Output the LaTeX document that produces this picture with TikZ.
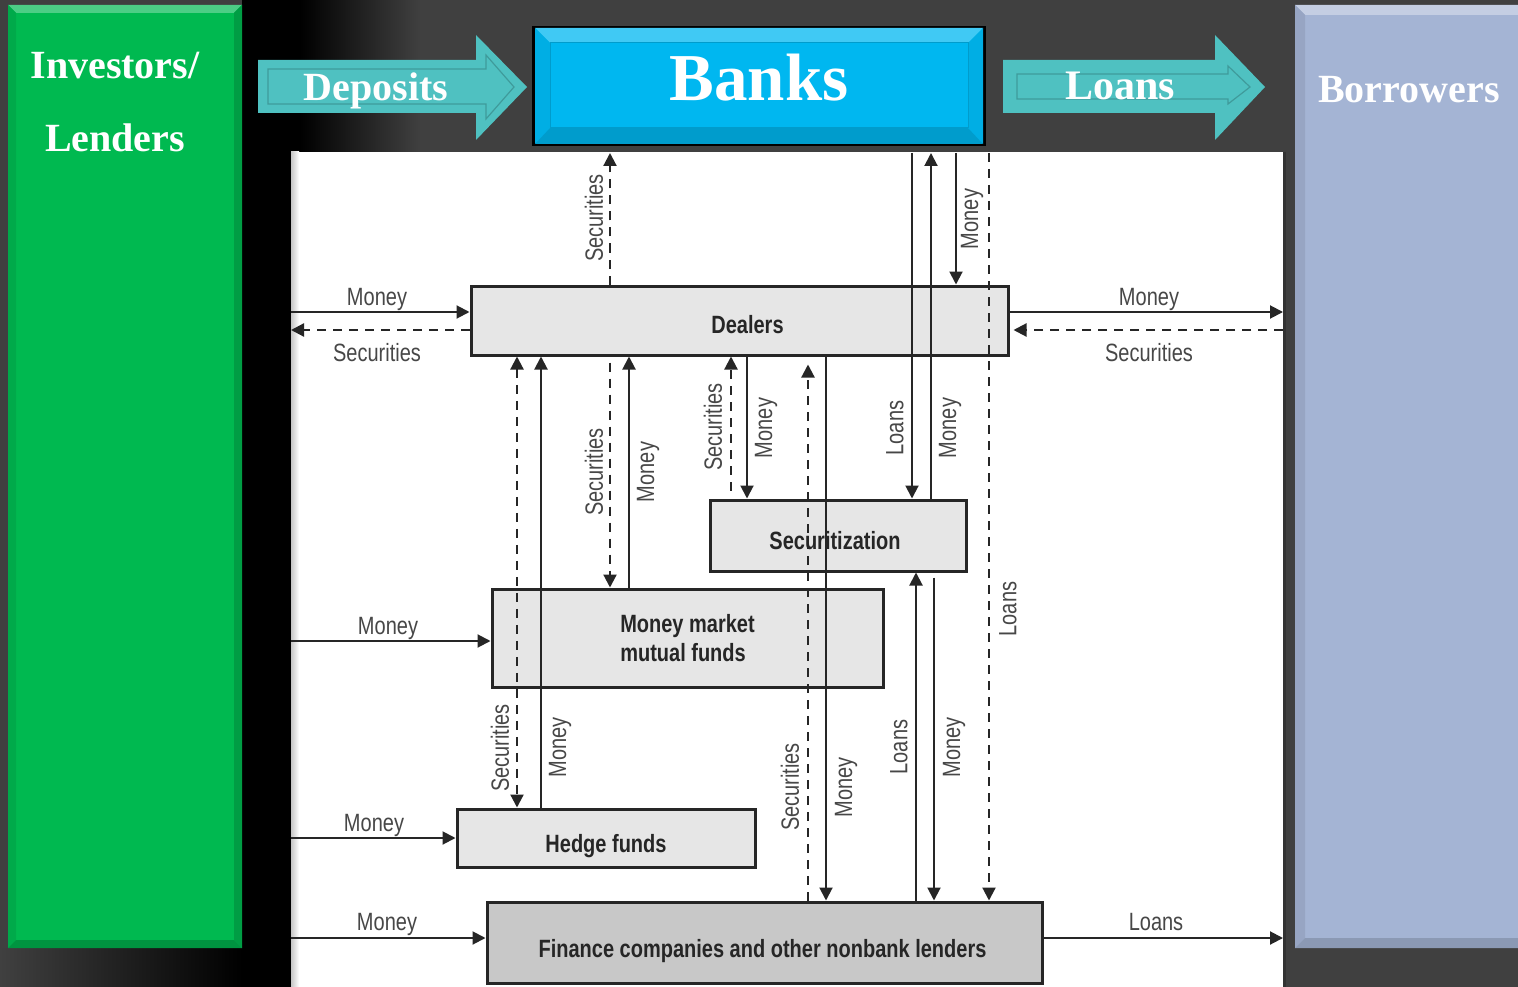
\documentclass[tikz,border=0pt]{standalone}
\usepackage{fontspec}
\setmainfont{Liberation Serif}
\newfontfamily\cond[FakeStretch=0.8]{Liberation Sans}
\usetikzlibrary{arrows.meta}
\definecolor{bg}{HTML}{404040}
\definecolor{grn}{HTML}{00B950}
\definecolor{cyn}{HTML}{00B7F0}
\definecolor{tealA}{HTML}{4FC1C1}
\definecolor{blu}{HTML}{A4B4D4}
\definecolor{boxg}{HTML}{E6E6E6}
\definecolor{fing}{HTML}{C8C8C8}
\definecolor{ink}{HTML}{262626}
\tikzset{
  flowbox/.style={draw=ink, line width=3pt, fill=boxg, inner sep=0pt,
    font=\cond\bfseries\fontsize{25}{29}\selectfont, text=ink},
  sol/.style={draw=ink, line width=2pt},
  dsh/.style={draw=ink, line width=2.2pt, dash pattern=on 9pt off 7pt},
  lbl/.style={font=\cond\fontsize{25}{29}\selectfont, text=ink!85, inner sep=0pt},
  bigtxt/.style={text=white, inner sep=0pt, anchor=base, font=\bfseries\fontsize{40}{46}\selectfont},
  >={Triangle[length=13pt,width=13pt]}
}
\begin{document}
\begin{tikzpicture}[x=1pt,y=-1pt]
\useasboundingbox (0,0) rectangle (1518,987);
% background
\fill[bg] (0,0) rectangle (1518,987);
\fill[black] (242,0) rectangle (300,987);
\shade[left color=black, right color=bg] (300,0) rectangle (420,152);
\shade[left color=bg, right color=black] (0,948) rectangle (242,987);
% investors box
\fill[grn] (8,5) rectangle (242,948);
\fill[grn!70!white] (8,5) -- (242,5) -- (234,13) -- (16,13) -- cycle;
\fill[grn!92!black] (8,5) -- (16,13) -- (16,940) -- (8,948) -- cycle;
\fill[grn!85!black] (242,5) -- (234,13) -- (234,940) -- (242,948) -- cycle;
\fill[grn!80!black] (8,948) -- (242,948) -- (234,940) -- (16,940) -- cycle;
\node[bigtxt] (inv) at (115,79) {Investors/};
\node[bigtxt] (lend) at (115,152) {Lenders};
% borrowers box
\fill[blu] (1295,5) rectangle (1518,948);
\fill[blu!65!white] (1295,5) -- (1518,5) -- (1518,15) -- (1305,15) -- cycle;
\fill[blu!92!black] (1295,5) -- (1305,15) -- (1305,938) -- (1295,948) -- cycle;
\fill[blu!85!black] (1295,948) -- (1518,948) -- (1518,938) -- (1305,938) -- cycle;
\node[bigtxt] (borr) at (1409,103) {Borrowers};
% deposits arrow
\fill[tealA] (258,60) -- (476,60) -- (476,35) -- (527,87) -- (476,140) -- (476,113) -- (258,113) -- cycle;
\draw[tealA!80!black, line width=1.2pt] (268,69) -- (486,69) -- (486,55) -- (514,87) -- (486,119) -- (486,104) -- (268,104) -- cycle;
\node[bigtxt] (dep) at (376,101) {Deposits};
% loans arrow
\fill[tealA] (1003,60) -- (1215,60) -- (1215,35) -- (1265,87) -- (1215,140) -- (1215,113) -- (1003,113) -- cycle;
\draw[tealA!80!black, line width=1.2pt] (1017,74) -- (1228,74) -- (1228,66) -- (1250,87) -- (1228,104) -- (1228,99) -- (1017,99) -- cycle;
\node[bigtxt, font=\bfseries\fontsize{42}{46}\selectfont] (loan) at (1120,100) {Loans};
% banks box
\node[draw=black, line width=3pt, fill=cyn, minimum width=451pt, minimum height=117pt, inner sep=0pt] (banks) at (759,86) {};
\fill[cyn!75!white] (535,28) -- (983,28) -- (968,43) -- (550,43) -- cycle;
\fill[cyn!95!black] (535,28) -- (550,43) -- (550,128) -- (535,144) -- cycle;
\fill[cyn!95!black] (983,28) -- (968,43) -- (968,128) -- (983,144) -- cycle;
\fill[cyn!85!black] (535,144) -- (983,144) -- (968,128) -- (550,128) -- cycle;
\draw[cyn!85!black, line width=1pt] (550,43) rectangle (968,128);
\node[bigtxt, font=\bfseries\fontsize{67}{72}\selectfont] (bankst) at (759,101) {Banks};
% white panel
\fill[white] (291,152) rectangle (1285,987);
\shade[left color=gray!45, right color=white] (291,152) rectangle (299,987);
\draw[gray!40!black, line width=3pt] (1284,152) -- (1284,987);
% coordinates
\coordinate (pl) at (291,0);
\coordinate (pr) at (1283,0);
\coordinate (ptop) at (0,153);
\foreach \y in {312,330,641,838,938} {\coordinate (h\y) at (0,\y);}
\foreach \x in {517,541,610,629,731,747,808,826,912,916,931,934,956,989} {\coordinate (v\x) at (\x,0);}
% boxes
\node[flowbox, minimum width=537pt, minimum height=69pt, text height=25pt, text depth=0pt] (dealers) at (739.5,320.5) {\hspace*{16pt}Dealers};
\node[flowbox, minimum width=256pt, minimum height=71pt, text height=27pt, text depth=0pt] (secur) at (838,535.5) {Securitization\hspace*{6pt}};
\node[flowbox, minimum width=391pt, minimum height=98pt, align=left] (mmmf) at (687.5,638) {Money market\\mutual funds};
\node[flowbox, minimum width=298pt, minimum height=58pt, text height=28pt, text depth=0pt] (hedge) at (606,838) {Hedge funds};
\node[flowbox, fill=fing, minimum width=555pt, minimum height=81pt, text height=30pt, text depth=0pt] (fin) at (764.5,942.5) {Finance companies and other nonbank lenders\hspace*{4pt}};
% horizontal connectors
\draw[sol,->] (pl |- h312) -- (dealers.west |- h312);
\draw[dsh,->] (dealers.west |- h330) -- (pl |- h330);
\draw[sol,->] (dealers.east |- h312) -- (pr |- h312);
\draw[dsh,->] (pr |- h330) -- ([xshift=4pt]dealers.east |- h330);
\draw[sol,->] (pl |- h641) -- (mmmf.west |- h641);
\draw[sol,->] (pl |- h838) -- (hedge.west |- h838);
\draw[sol,->] (pl |- h938) -- (fin.west |- h938);
\draw[sol,->] (fin.east |- h938) -- (pr |- h938);
% vertical connectors
\draw[dsh,->] (v610 |- dealers.north) -- (v610 |- ptop);
\draw[sol,->] (v912 |- ptop) -- (v912 |- secur.north);
\draw[sol,->] (v931 |- secur.north) -- (v931 |- ptop);
\draw[sol,->] (v956 |- ptop) -- (v956 |- dealers.north);
\draw[dsh,->] (v989 |- ptop) -- (v989 |- fin.north);
\draw[dsh,<->] (v517 |- dealers.south) -- (v517 |- hedge.north);
\draw[sol,->] (v541 |- hedge.north) -- (v541 |- dealers.south);
\draw[dsh,->, shorten <=6pt] (v610 |- dealers.south) -- (v610 |- mmmf.north);
\draw[sol,->] (v629 |- mmmf.north) -- (v629 |- dealers.south);
\draw[dsh,->, shorten <=8pt] (v731 |- secur.north) -- (v731 |- dealers.south);
\draw[sol,->] (v747 |- dealers.south) -- (v747 |- secur.north);
\draw[dsh,->, shorten >=8pt] (v808 |- fin.north) -- (v808 |- dealers.south);
\draw[sol,->] (v826 |- dealers.south) -- (v826 |- fin.north);
\draw[sol,->] (v916 |- fin.north) -- (v916 |- secur.south);
\draw[sol,->, shorten <=5pt] (v934 |- secur.south) -- (v934 |- fin.north);
% horizontal labels
\node[lbl, anchor=base] (l1) at (377,305) {Money};
\node[lbl, anchor=base] (l2) at (377,361) {Securities};
\node[lbl, anchor=base] (l3) at (1149,305) {Money};
\node[lbl, anchor=base] (l4) at (1149,361) {Securities};
\node[lbl, anchor=base] (l5) at (388,634) {Money};
\node[lbl, anchor=base] (l6) at (374,831) {Money};
\node[lbl, anchor=base] (l7) at (387,930) {Money};
\node[lbl, anchor=base] (l8) at (1156,930) {Loans};
% vertical labels
\node[lbl, rotate=90] (r1) at (594,218) {Securities};
\node[lbl, rotate=90] (r2) at (972,219) {Money};
\node[lbl, rotate=90] (r3) at (594,472) {Securities};
\node[lbl, rotate=90] (r4) at (648,472) {Money};
\node[lbl, rotate=90] (r5) at (713,427) {Securities};
\node[lbl, rotate=90] (r6) at (766,428) {Money};
\node[lbl, rotate=90] (r7) at (895,428) {Loans};
\node[lbl, rotate=90] (r8) at (950,428) {Money};
\node[lbl, rotate=90] (r9) at (1008,609) {Loans};
\node[lbl, rotate=90] (r10) at (500,748) {Securities};
\node[lbl, rotate=90] (r11) at (560,747) {Money};
\node[lbl, rotate=90] (r12) at (790,787) {Securities};
\node[lbl, rotate=90] (r13) at (846,787) {Money};
\node[lbl, rotate=90] (r14) at (899,747) {Loans};
\node[lbl, rotate=90] (r15) at (954,747) {Money};
\end{tikzpicture}
\end{document}
